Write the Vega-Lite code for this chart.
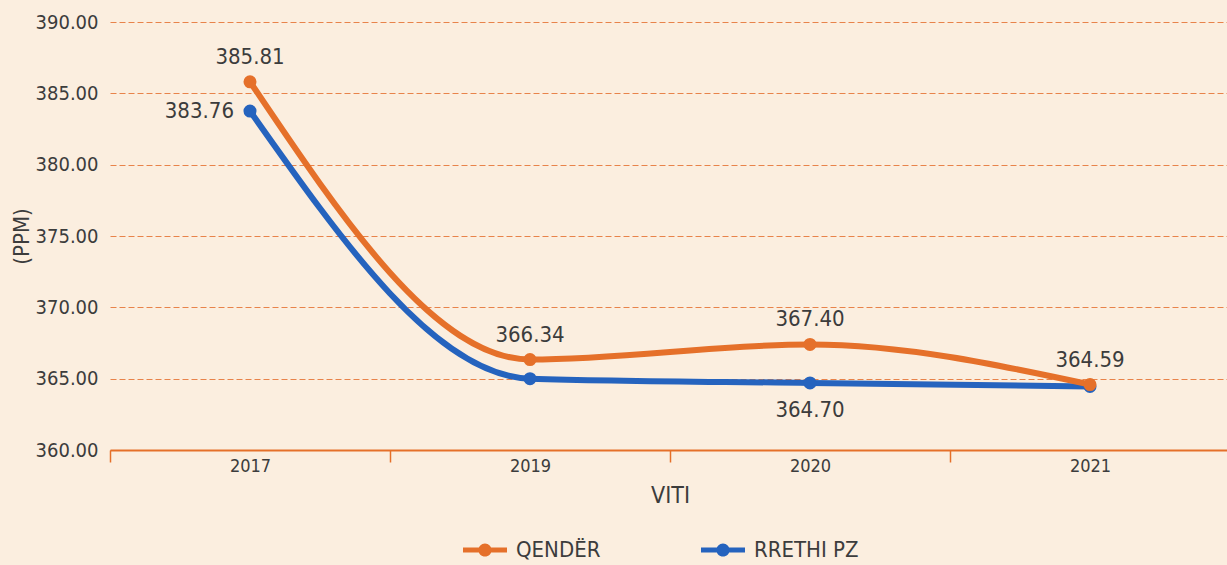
{
  "$schema": "https://vega.github.io/schema/vega-lite/v6.json",
  "width": 1120,
  "height": 428,
  "autosize": {"type": "none"},
  "padding": {"left": 110, "top": 22, "right": 0, "bottom": 115},
  "background": "#fbeedf",
  "config": {
    "view": {"stroke": null},
    "font": "Liberation Sans Narrow, DejaVu Sans Condensed, sans-serif",
    "text": {"font": "Liberation Sans Narrow, DejaVu Sans Condensed, sans-serif"}
  },
  "data": {
    "values": [
      {"series": "QENDËR", "year": "2017", "value": 385.81, "label": "385.81"},
      {"series": "QENDËR", "year": "2019", "value": 366.34, "label": "366.34"},
      {"series": "QENDËR", "year": "2020", "value": 367.40, "label": "367.40"},
      {"series": "QENDËR", "year": "2021", "value": 364.59, "label": "364.59"},
      {"series": "RRETHI PZ", "year": "2017", "value": 383.76, "label": "383.76"},
      {"series": "RRETHI PZ", "year": "2019", "value": 365.00, "label": ""},
      {"series": "RRETHI PZ", "year": "2020", "value": 364.70, "label": "364.70"},
      {"series": "RRETHI PZ", "year": "2021", "value": 364.45, "label": ""}
    ]
  },
  "encoding": {
    "x": {
      "field": "year",
      "type": "nominal",
      "scale": {"type": "band", "paddingInner": 0, "paddingOuter": 0},
      "axis": {
        "title": "VITI",
        "labelAngle": 0,
        "labelFontSize": 18,
        "labelColor": "#3c3c3c",
        "titleFontSize": 23,
        "titleColor": "#3c3c3c",
        "titleFontWeight": "normal",
        "domainColor": "#e5702a",
        "domainWidth": 2,
        "tickColor": "#e5702a",
        "tickWidth": 1.5,
        "tickSize": 12,
        "tickBand": "extent",
        "labelPadding": -5,
        "titlePadding": 9
      }
    },
    "y": {
      "field": "value",
      "type": "quantitative",
      "scale": {"domain": [360, 390], "zero": false},
      "axis": {
        "title": "(PPM)",
        "values": [360, 365, 370, 375, 380, 385, 390],
        "format": ".2f",
        "labelFontSize": 20,
        "labelColor": "#3c3c3c",
        "titleFontSize": 22,
        "titleColor": "#3c3c3c",
        "titleFontWeight": "normal",
        "domain": false,
        "ticks": false,
        "labelPadding": 12,
        "titlePadding": 2,
        "grid": true,
        "gridColor": "#e8834a",
        "gridDash": [6, 3],
        "gridWidth": 1
      }
    },
    "color": {
      "field": "series",
      "type": "nominal",
      "scale": {"domain": ["QENDËR", "RRETHI PZ"], "range": ["#e5702a", "#2563be"]},
      "legend": {
        "title": null,
        "orient": "none",
        "direction": "horizontal",
        "legendX": 353,
        "legendY": 506,
        "padding": 0,
        "symbolType": "M-1,-0.11H1V0.11H-1Z M0.3,0A0.3,0.3 0 1,1 -0.3,0A0.3,0.3 0 1,1 0.3,0Z",
        "symbolSize": 1936,
        "symbolStrokeWidth": 0,
        "labelFontSize": 22,
        "labelColor": "#3c3c3c",
        "labelOffset": 9,
        "columnPadding": 100
      }
    }
  },
  "layer": [
    {
      "transform": [{"filter": "datum.series === 'RRETHI PZ'"}],
      "mark": {"type": "line", "interpolate": "monotone", "strokeWidth": 6}
    },
    {
      "transform": [{"filter": "datum.series === 'RRETHI PZ'"}],
      "mark": {"type": "point", "filled": true, "size": 170, "opacity": 1}
    },
    {
      "transform": [{"filter": "datum.series === 'QENDËR'"}],
      "mark": {"type": "line", "interpolate": "monotone", "strokeWidth": 6}
    },
    {
      "transform": [{"filter": "datum.series === 'QENDËR'"}],
      "mark": {"type": "point", "filled": true, "size": 170, "opacity": 1}
    },
    {
      "transform": [{"filter": "datum.series === 'QENDËR'"}],
      "mark": {"type": "text", "dy": -25, "fontSize": 22, "color": "#3c3c3c"},
      "encoding": {"text": {"field": "label"}, "color": {"value": "#3c3c3c"}}
    },
    {
      "transform": [{"filter": "datum.series === 'RRETHI PZ' && datum.year === '2017'"}],
      "mark": {"type": "text", "align": "right", "dx": -16, "fontSize": 22, "color": "#3c3c3c"},
      "encoding": {"text": {"field": "label"}, "color": {"value": "#3c3c3c"}}
    },
    {
      "transform": [{"filter": "datum.series === 'RRETHI PZ' && datum.year === '2020'"}],
      "mark": {"type": "text", "dy": 27, "fontSize": 22, "color": "#3c3c3c"},
      "encoding": {"text": {"field": "label"}, "color": {"value": "#3c3c3c"}}
    }
  ]
}
